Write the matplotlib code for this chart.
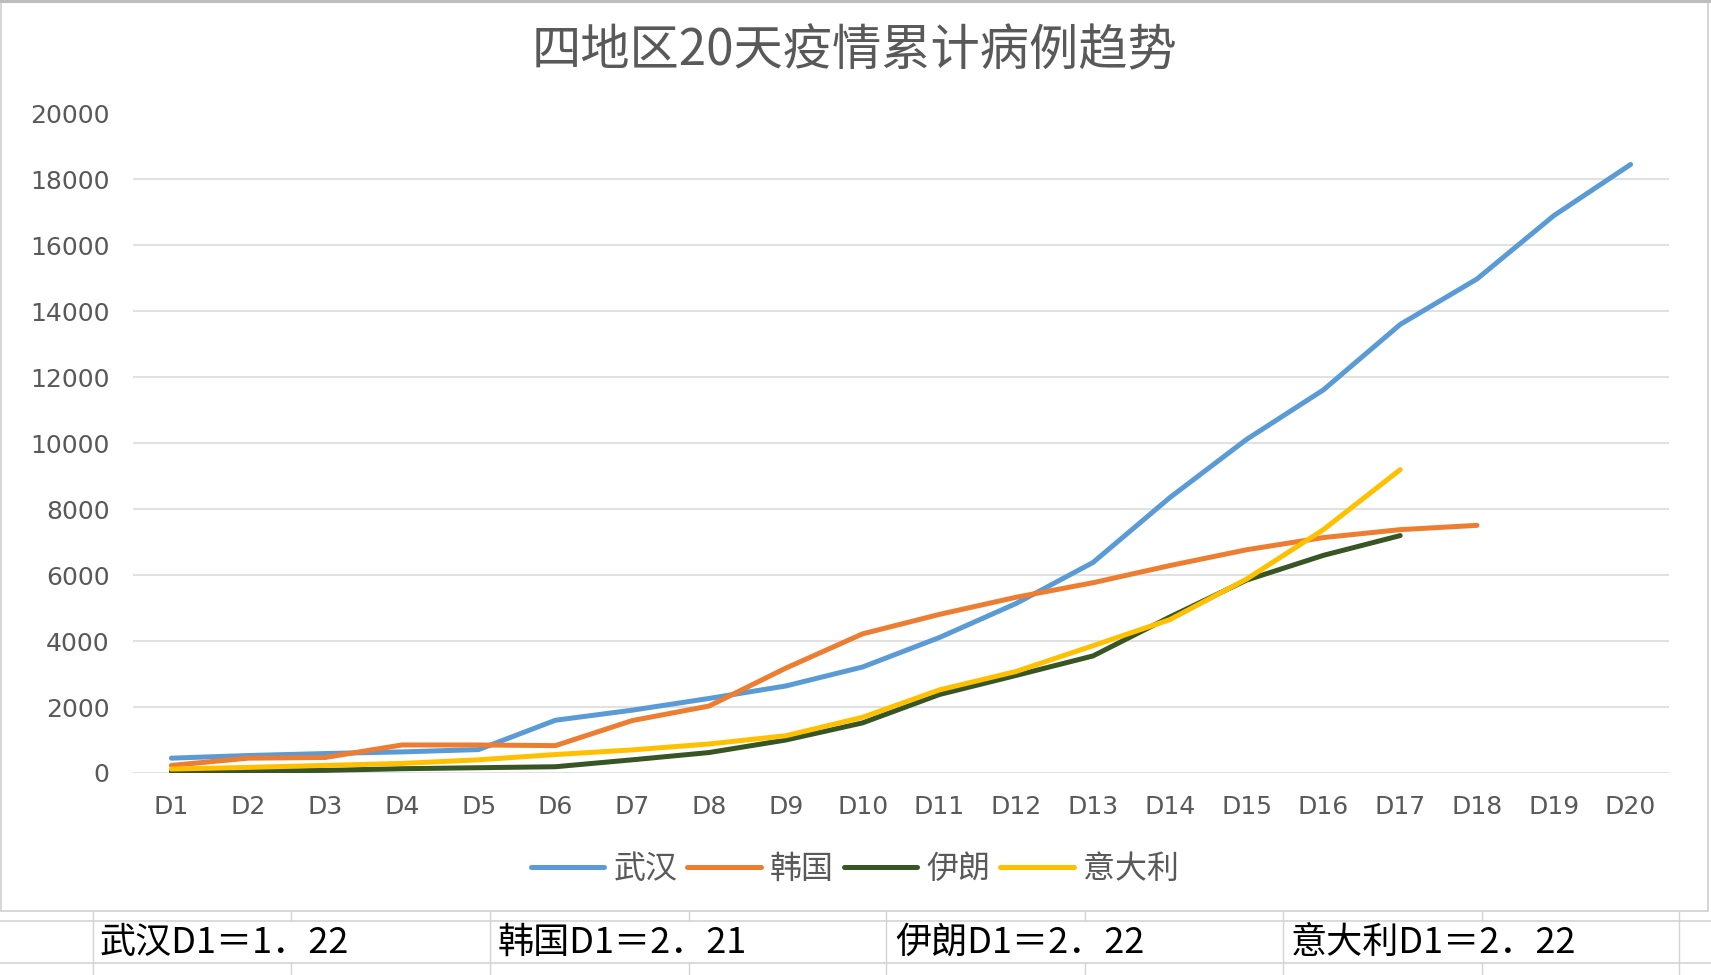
import numpy as np
import matplotlib
matplotlib.use("Agg")
import matplotlib.pyplot as plt
from matplotlib.patches import Rectangle

plt.rcParams['font.family'] = ['Noto Sans CJK SC', 'DejaVu Sans']

# DATA

days = ['D1', 'D2', 'D3', 'D4', 'D5', 'D6', 'D7', 'D8', 'D9', 'D10',
        'D11', 'D12', 'D13', 'D14', 'D15', 'D16', 'D17', 'D18', 'D19', 'D20']

wuhan = [450, 530, 590, 640, 710, 1600, 1905, 2261, 2639, 3215,
         4109, 5142, 6384, 8351, 10117, 11618, 13603, 14982, 16902, 18454]
korea = [230, 450, 470, 850, 850, 830, 1590, 2030, 3180, 4220,
         4810, 5330, 5770, 6290, 6770, 7140, 7380, 7510]
iran = [40, 60, 80, 130, 160, 190, 400, 620, 1000, 1520,
        2380, 2960, 3550, 4730, 5850, 6600, 7200]
italy = [120, 170, 230, 290, 400, 560, 700, 880, 1130, 1690,
         2520, 3080, 3860, 4650, 5880, 7380, 9200]

series_names = ['武汉', '韩国', '伊朗', '意大利']
series_colors = ['#5B9BD5', '#ED7D31', '#375623', '#FFC000']

title = '四地区20天疫情累计病例趋势'
notes = ['武汉D1＝1．22', '韩国D1＝2．21', '伊朗D1＝2．22', '意大利D1＝2．22']

yticks = [0, 2000, 4000, 6000, 8000, 10000, 12000, 14000, 16000, 18000, 20000]

# FIGURE (pixel layout of the excel screenshot)

W, H = 1711, 975
fig = plt.figure(figsize=(W / 100, H / 100), dpi=100)
fig.patch.set_facecolor('white')

frame = fig.add_axes([0, 0, 1, 1])
frame.set_xlim(0, W)
frame.set_ylim(H, 0)
frame.axis('off')

# chart box
frame.add_patch(Rectangle((1.5, 1.5), 1707, 909.5, facecolor='white',
                          edgecolor='#d0d0d0', lw=1.2))
frame.plot([0, W], [1.2, 1.2], color='#bdbdbd', lw=2.2)

# spreadsheet grid below the chart
cols = [93, 291, 490, 689, 886, 1085, 1283, 1482, 1679]
grid_c = '#d4d4d4'
for y in [921, 962.5]:
    frame.plot([0, W], [y, y], color=grid_c, lw=1.2)
for x in cols:
    frame.plot([x, x], [911, 921], color=grid_c, lw=1.0)
    frame.plot([x, x], [962.5, H], color=grid_c, lw=1.0)
for x in cols[::2]:
    frame.plot([x, x], [921, 962.5], color=grid_c, lw=1.0)

note_x = [100, 498, 895, 1291]
for x, s in zip(note_x, notes):
    frame.text(x, 943, s, fontsize=26, color='black', ha='left', va='center')

# MAIN PLOT

ax = fig.add_axes([133 / W, 1 - 773 / H, (1669 - 133) / W, (773 - 113.5) / H])
ax.set_facecolor('none')

for vals, name, c in zip([wuhan, korea, iran, italy], series_names, series_colors):
    ax.plot(np.arange(len(vals)), vals, color=c, lw=3.6, label=name,
            solid_capstyle='round', solid_joinstyle='round', zorder=3)

ax.set_xlim(-0.5, len(days) - 0.5)
ax.set_ylim(0, 20000)
ax.set_xticks(np.arange(len(days)))
ax.set_xticklabels(days)
ax.set_yticks(yticks)
ax.set_yticklabels([str(v) for v in yticks])
ax.grid(axis='y', color='#d9d9d9', lw=1.1)
ax.set_axisbelow(True)
for sp in ax.spines.values():
    sp.set_visible(False)
ax.tick_params(length=0, colors='#595959')
ax.tick_params(axis='y', pad=17)
ax.tick_params(axis='x', pad=16)
for lab in ax.get_xticklabels() + ax.get_yticklabels():
    lab.set_family('DejaVu Sans')
    lab.set_fontsize(18)

fig.text(855 / W, 1 - 51 / H, title, fontsize=35.5, color='#595959',
         ha='center', va='center')

fig.legend(loc='center', bbox_to_anchor=(855 / W, 1 - 869 / H), ncol=4,
           frameon=False, fontsize=23, labelcolor='#595959',
           handlelength=2.3, handletextpad=0.3, columnspacing=0.3)

fig.savefig('out.png', dpi=100)
